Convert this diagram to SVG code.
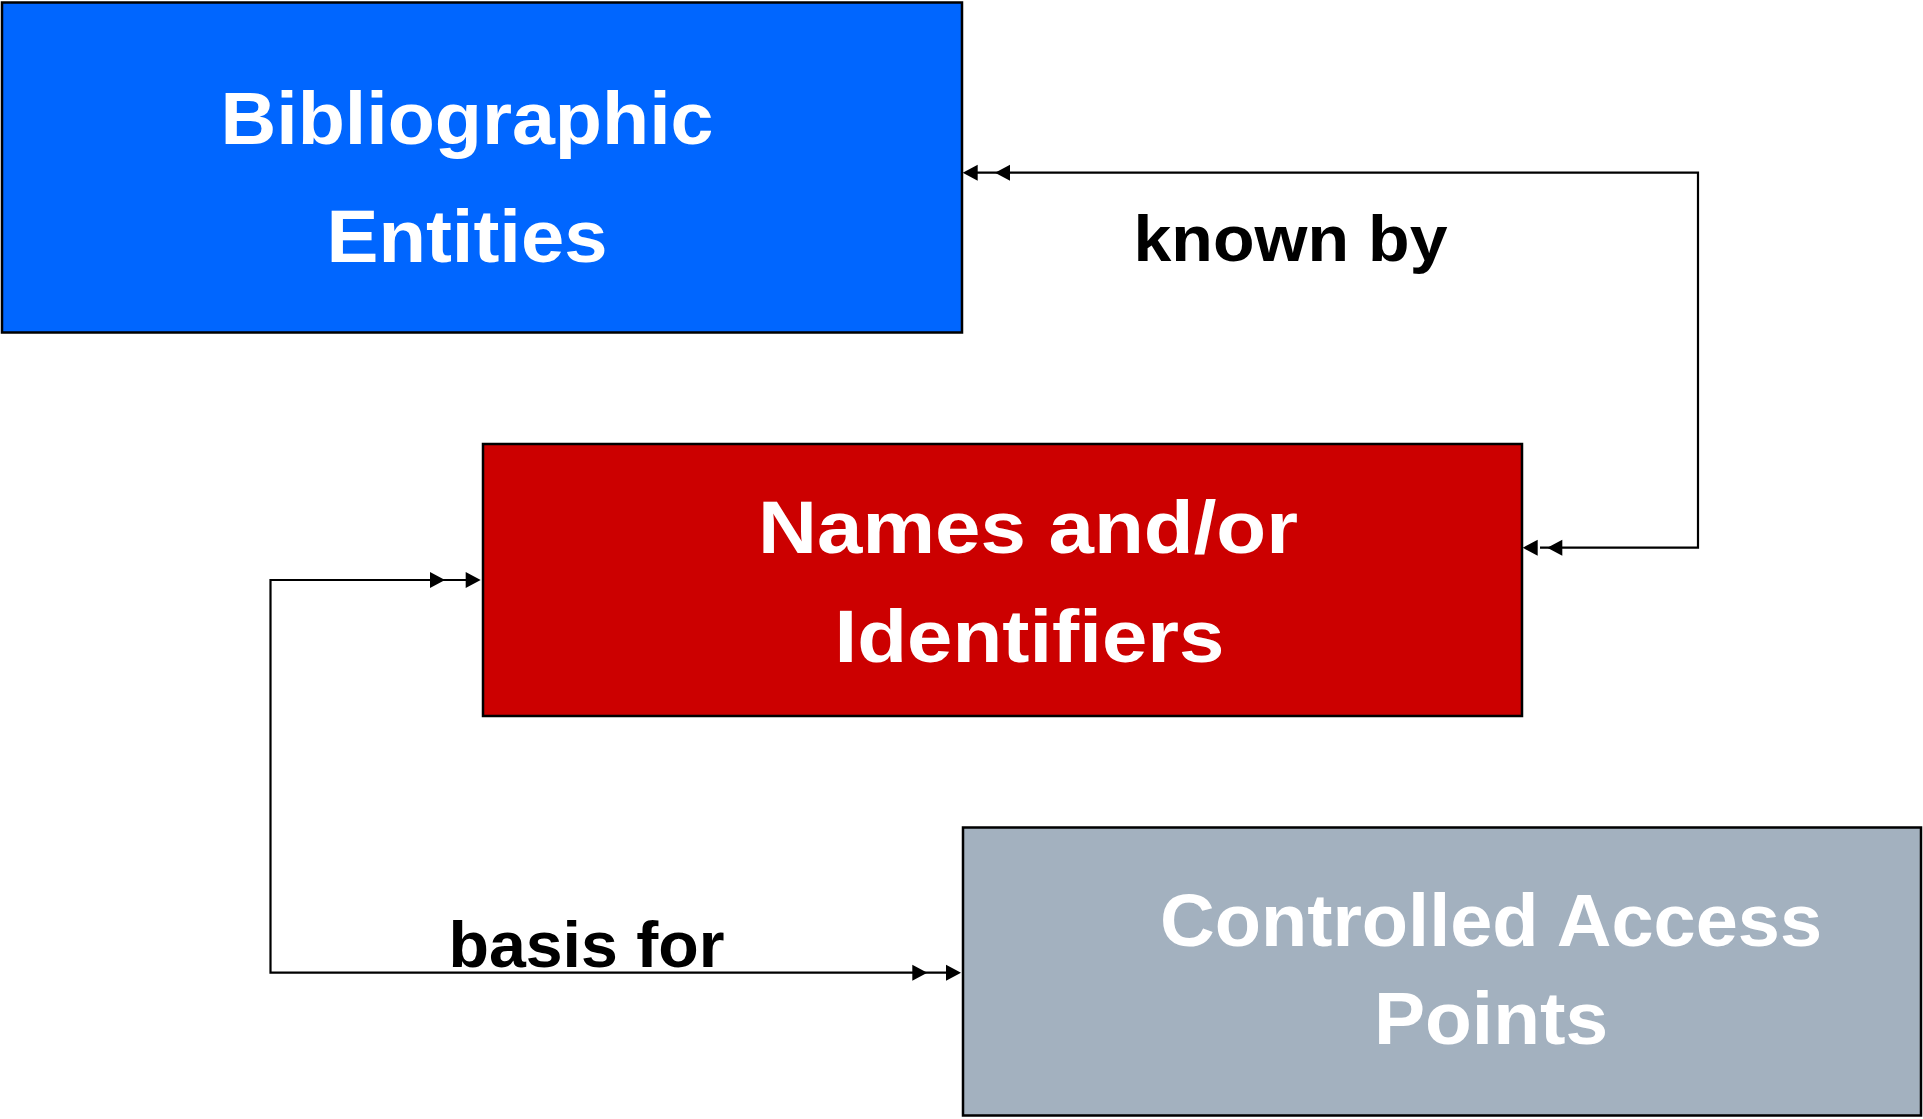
<svg xmlns="http://www.w3.org/2000/svg" xmlns:xlink="http://www.w3.org/1999/xlink" width="1923" height="1119" viewBox="0 0 1923 1119">
  <style>
    .box { stroke: #000000; stroke-width: 2.5; }
    .ntext { font-family: "Liberation Sans", Arial, sans-serif; font-weight: bold; font-size: 74px; fill: #FFFFFF; text-anchor: middle; }
    .ltext { font-family: "Liberation Sans", Arial, sans-serif; font-weight: bold; font-size: 64px; fill: #000000; text-anchor: middle; }
    .conn { fill: none; stroke: #000000; stroke-width: 2.2; }
    .ah { fill: #000000; stroke: none; }
  </style>
  <defs>
    <path id="ah" d="M0,0 L-15,-8 L-15,8 Z"/>
  </defs>
  <rect x="0" y="0" width="1923" height="1119" fill="#FFFFFF"/>

  <g id="node-bibliographic-entities">
    <rect class="box" x="2" y="2.5" width="960" height="330" fill="#0066FF"/>
    <text class="ntext" x="467" y="144.3" textLength="493" lengthAdjust="spacingAndGlyphs">Bibliographic</text>
    <text class="ntext" x="467" y="261.7" textLength="281" lengthAdjust="spacingAndGlyphs">Entities</text>
  </g>

  <g id="node-names-identifiers">
    <rect class="box" x="483" y="444" width="1039" height="272" fill="#CC0000"/>
    <text class="ntext" x="1028" y="553.3" textLength="540" lengthAdjust="spacingAndGlyphs">Names and/or</text>
    <text class="ntext" x="1029.5" y="661.7" textLength="390" lengthAdjust="spacingAndGlyphs">Identifiers</text>
  </g>

  <g id="node-controlled-access-points">
    <rect class="box" x="963" y="827.5" width="958" height="288" fill="#A3B1BF"/>
    <text class="ntext" x="1491" y="946" textLength="662" lengthAdjust="spacingAndGlyphs">Controlled Access</text>
    <text class="ntext" x="1491" y="1044" textLength="234" lengthAdjust="spacingAndGlyphs">Points</text>
  </g>

  <g id="connectors">
    <g id="conn-known-by">
      <path class="conn" d="M1540,547.7 H1698 V172.7 H975"/>
      <use class="ah" xlink:href="#ah" href="#ah" transform="translate(962.7,172.7) rotate(180)"/>
      <use class="ah" xlink:href="#ah" href="#ah" transform="translate(995,172.7) rotate(180)"/>
      <use class="ah" xlink:href="#ah" href="#ah" transform="translate(1522.7,547.7) rotate(180)"/>
      <use class="ah" xlink:href="#ah" href="#ah" transform="translate(1547.3,547.7) rotate(180)"/>
      <text class="ltext" x="1290.5" y="260.7" textLength="314" lengthAdjust="spacingAndGlyphs">known by</text>
    </g>
    <g id="conn-basis-for">
      <path class="conn" d="M468,580 H270.5 V972.7 H948"/>
      <use class="ah" xlink:href="#ah" href="#ah" transform="translate(445,580)"/>
      <use class="ah" xlink:href="#ah" href="#ah" transform="translate(480.7,580)"/>
      <use class="ah" xlink:href="#ah" href="#ah" transform="translate(927.3,972.7)"/>
      <use class="ah" xlink:href="#ah" href="#ah" transform="translate(961,972.7)"/>
      <text class="ltext" x="586.5" y="966.7" textLength="276" lengthAdjust="spacingAndGlyphs">basis for</text>
    </g>
  </g>
</svg>
